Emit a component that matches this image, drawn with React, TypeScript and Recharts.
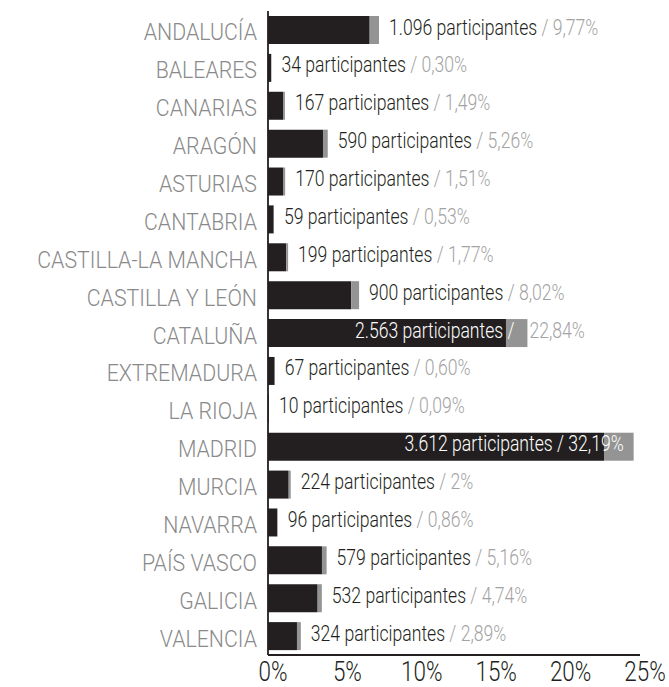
import React from 'react';
import { BarChart, Bar, XAxis, YAxis, LabelList } from 'recharts';

const regions = [
  'ANDALUCÍA', 'BALEARES', 'CANARIAS', 'ARAGÓN', 'ASTURIAS', 'CANTABRIA',
  'CASTILLA-LA MANCHA', 'CASTILLA Y LEÓN', 'CATALUÑA', 'EXTREMADURA', 'LA RIOJA',
  'MADRID', 'MURCIA', 'NAVARRA', 'PAÍS VASCO', 'GALICIA', 'VALENCIA',
];
const participants = [
  '1.096', '34', '167', '590', '170', '59', '199', '900', '2.563', '67', '10',
  '3.612', '224', '96', '579', '532', '324',
];
const pctLabels = [
  '9,77%', '0,30%', '1,49%', '5,26%', '1,51%', '0,53%', '1,77%', '8,02%', '22,84%',
  '0,60%', '0,09%', '32,19%', '2%', '0,86%', '5,16%', '4,74%', '2,89%',
];
// dark part and grey part of each bar (percentage points)
const mainShare = [8.95, 0.28, 1.32, 4.84, 1.32, 0.5, 1.61, 7.33, 20.95, 0.58, 0.08, 29.58, 1.82, 0.8, 4.75, 4.37, 2.55];
const restShare = [0.82, 0.02, 0.17, 0.42, 0.19, 0.03, 0.16, 0.69, 1.89, 0.02, 0.01, 2.61, 0.18, 0.06, 0.41, 0.37, 0.34];
const pctTicks = [0, 5, 10, 15, 20, 25];

const data = regions.map((region, i) => ({ region, main: mainShare[i], rest: restShare[i] }));

const FONT = "Roboto, 'Liberation Sans', sans-serif";
const DARK = '#231f20';
const GRAY_BAR = '#949494';
const GRAY_TEXT = '#a3a3a3';
const CAT_TEXT = '#8a8a8a';

// condensed text: real text, narrowed horizontally
const CondText = ({ x, y, sx, size, anchor, fill, children }: any) => (
  <text
    transform={`translate(${x} ${y}) scale(${sx} 1)`}
    x={0}
    y={0}
    textAnchor={anchor}
    fontFamily={FONT}
    fontWeight={300}
    fontSize={size}
    fill={fill}
  >
    {children}
  </text>
);

const CatTick = (props: any) => {
  const { x, y, payload } = props;
  return (
    <CondText x={x - 11} y={y + 10.5} sx={0.87} size={24.5} anchor="end" fill={CAT_TEXT}>
      {payload.value}
    </CondText>
  );
};

const PctTick = (props: any) => {
  const { x, y, payload } = props;
  return (
    <CondText x={x + 5} y={y + 26} sx={0.8} size={28} anchor="middle" fill={DARK}>
      {`${payload.value}%`}
    </CondText>
  );
};

const ValueLabel = (props: any) => {
  const { x, y, width, height, index } = props;
  const end = Number(x) + Number(width);
  const base = Number(y) + Number(height) / 2 + 4.5;
  const total = mainShare[index] + restShare[index];
  const count = `${participants[index]} participantes`;
  const pct = pctLabels[index];
  const sx = 0.8;
  const size = 22;
  if (total >= 30) {
    return (
      <CondText x={end - 10} y={base} sx={sx} size={size} anchor="end" fill="#ffffff">
        {`${count} / ${pct}`}
      </CondText>
    );
  }
  if (total >= 20) {
    return (
      <g>
        <CondText x={end - 13} y={base} sx={sx} size={size} anchor="end" fill="#ffffff">
          {`${count} /`}
        </CondText>
        <CondText x={end + 2} y={base} sx={sx} size={size} anchor="start" fill={GRAY_TEXT}>
          {pct}
        </CondText>
      </g>
    );
  }
  return (
    <CondText x={end + 10} y={base} sx={sx} size={size} anchor="start" fill={DARK}>
      <tspan fill={DARK}>{count}</tspan>
      <tspan fill={GRAY_TEXT}>{` / ${pct}`}</tspan>
    </CondText>
  );
};

export default function App() {
  return (
    <div style={{ position: 'absolute', left: 0, top: 0 }}>
      <BarChart
        width={669}
        height={687}
        data={data}
        layout="vertical"
        margin={{ top: 11, right: 29, bottom: 0, left: 0 }}
        barCategoryGap={0}
      >
        <YAxis
          type="category"
          dataKey="region"
          width={268}
          tickLine={false}
          tickSize={0}
          tickMargin={0}
          axisLine={{ stroke: DARK, strokeWidth: 1.8 }}
          tick={<CatTick />}
          interval={0}
        />
        <XAxis
          xAxisId="pct"
          type="number"
          domain={[0, 25]}
          allowDataOverflow
          ticks={pctTicks}
          height={32}
          tickLine={false}
          tickSize={0}
          tickMargin={0}
          axisLine={{ stroke: DARK, strokeWidth: 2 }}
          tick={<PctTick />}
          interval={0}
        />
        <XAxis xAxisId="val" type="number" domain={[0, 32.75]} allowDataOverflow hide />
        <Bar xAxisId="val" dataKey="main" stackId="s" fill={DARK} barSize={28} isAnimationActive={false} />
        <Bar xAxisId="val" dataKey="rest" stackId="s" fill={GRAY_BAR} barSize={28} isAnimationActive={false}>
          <LabelList dataKey="rest" content={<ValueLabel />} />
        </Bar>
      </BarChart>
    </div>
  );
}
